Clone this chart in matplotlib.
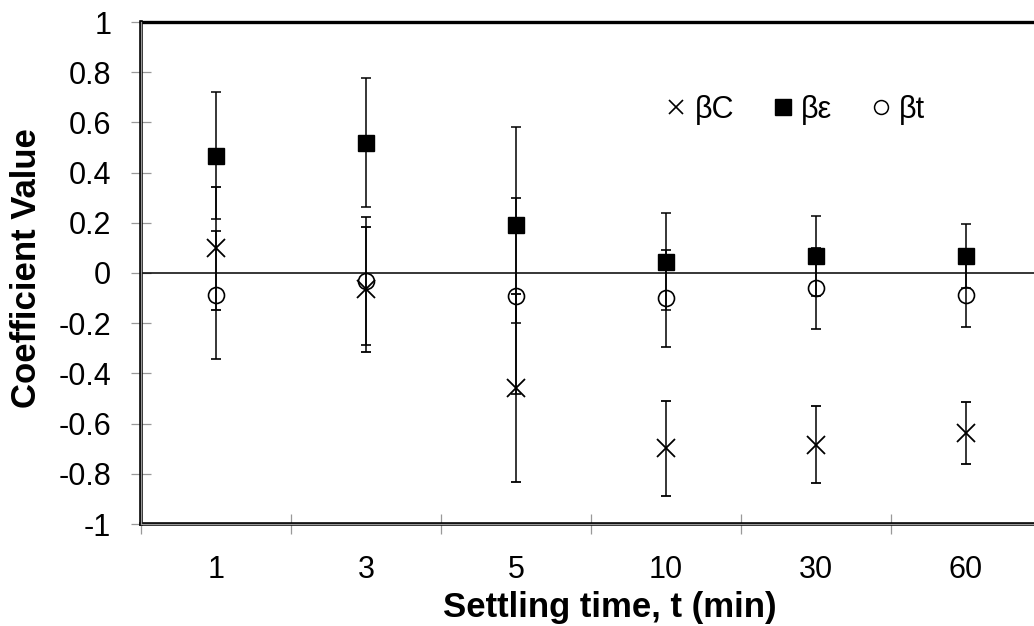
import matplotlib
matplotlib.use("Agg")
import matplotlib.pyplot as plt
from matplotlib.lines import Line2D
import numpy as np

plt.rcParams['font.family'] = ['Liberation Sans', 'DejaVu Sans']

categories = ['1', '3', '5', '10', '30', '60']
beta_C = [0.098, -0.065, -0.459, -0.699, -0.684, -0.637]
beta_C_err = [0.245, 0.249, 0.375, 0.189, 0.153, 0.123]
beta_eps = [0.467, 0.519, 0.191, 0.045, 0.068, 0.068]
beta_eps_err = [0.253, 0.257, 0.392, 0.193, 0.159, 0.127]
beta_t = [-0.088, -0.032, -0.092, -0.101, -0.061, -0.088]
beta_t_err = [0.255, 0.256, 0.392, 0.193, 0.161, 0.126]
labels = ['βC', 'βε', 'βt']
y_ticks = [-1, -0.8, -0.6, -0.4, -0.2, 0, 0.2, 0.4, 0.6, 0.8, 1]

W, H = 1034, 626
fig = plt.figure(figsize=(W / 100, H / 100), dpi=100)
ax = fig.add_axes([141 / W, (H - 524) / H, 900 / W, 502 / H])

x = np.arange(len(categories))
ekw = dict(ecolor='black', elinewidth=1.1, capsize=3.8, capthick=1.1, linestyle='none')
ax.errorbar(x, beta_C, yerr=beta_C_err, marker='x', ms=13, mew=1.3, color='black', zorder=3, **ekw)
ax.errorbar(x, beta_eps, yerr=beta_eps_err, marker='s', ms=11.5, mfc='black', mec='black', zorder=3, **ekw)
ax.errorbar(x, beta_t, yerr=beta_t_err, marker='o', ms=11.5, mfc='none', mec='black', mew=1.2, zorder=3, **ekw)

ax.axhline(0, color='black', lw=1.1, zorder=2)

ax.set_xlim(-0.5, len(categories) - 0.5)
ax.set_ylim(-1, 1)
ax.set_yticks(y_ticks)
ax.set_yticklabels(['%g' % v for v in y_ticks])
ax.set_xticks(x)
ax.set_xticklabels(categories)
ax.set_xticks(np.arange(-0.5, len(categories)), minor=True)

ax.tick_params(axis='x', which='major', length=0, pad=22, labelsize=22)
ax.tick_params(axis='x', which='minor', direction='inout', length=15, width=0.9, color='#999999')
ax.tick_params(axis='y', direction='inout', length=15, width=0.9, color='#999999', pad=14, labelsize=22)

for s in ['left', 'bottom']:
    ax.spines[s].set_linewidth(2.6)
    ax.spines[s].set_color('black')
ax.spines['top'].set_linewidth(2.4)
ax.spines['top'].set_color('black')
ax.spines['right'].set_linewidth(2.4)
ax.plot([0, 0], [0, 1], transform=ax.transAxes, color='#9a9a9a', lw=0.9, clip_on=False, zorder=5)
ax.plot([0, 1], [0, 0], transform=ax.transAxes, color='#9a9a9a', lw=0.9, clip_on=False, zorder=5)

fig.text(610 / W, (H - 617) / H, 'Settling time, t (min)', fontsize=25, fontweight='bold',
         ha='center', va='baseline')
fig.text(27 / W, 1 - 268 / H, 'Coefficient Value', fontsize=25, fontweight='bold',
         ha='center', va='center', rotation=90)

handles = [Line2D([], [], marker='x', ms=10, mew=1.2, color='black', ls='none'),
           Line2D([], [], marker='s', ms=11, color='black', ls='none'),
           Line2D([], [], marker='o', ms=10, mfc='none', mec='black', mew=1.1, ls='none')]
ax.legend(handles, labels, ncol=3, loc='center', bbox_to_anchor=(0.728, 0.825), frameon=False,
          fontsize=22, handlelength=0.6, handletextpad=0.29, columnspacing=1.3, borderaxespad=0,
          borderpad=0)

fig.savefig('out.png', dpi=100)
